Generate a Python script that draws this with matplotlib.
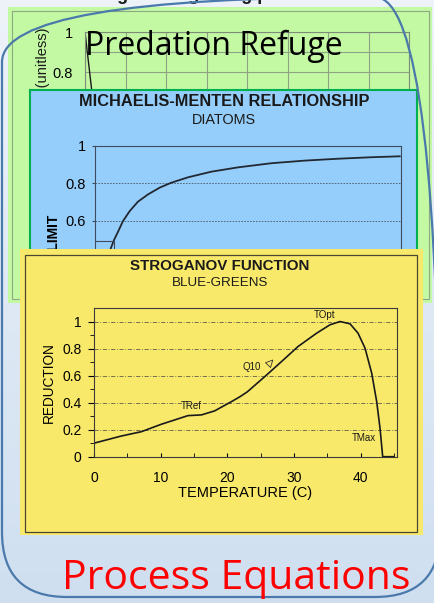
import matplotlib
matplotlib.use('Agg')
import matplotlib.pyplot as plt
import numpy as np
from matplotlib.patches import Rectangle, FancyBboxPatch
from matplotlib.colors import LinearSegmentedColormap
from matplotlib.ticker import MultipleLocator, FuncFormatter

plt.rcParams['font.family'] = ['Liberation Sans', 'DejaVu Sans']

W, H = 434, 603

# predation refuge chart (mostly covered by the others)
food = [0, 0.165, 0.4, 1.0, 2.0, 4.0, 8.0]
refuge = [1.0, 0.71, 0.45, 0.2, 0.06, 0.01, 0.0]

# Michaelis-Menten nutrient limitation, diatoms
nutrient = [0, 0.02, 0.05, 0.081, 0.098, 0.119, 0.145, 0.180, 0.223, 0.276,
            0.337, 0.397, 0.485, 0.607, 0.746, 0.920, 1.095, 1.269, 1.443, 1.592]
limit = [0, 0.17, 0.33, 0.453, 0.498, 0.542, 0.599, 0.652, 0.702, 0.741,
         0.777, 0.803, 0.832, 0.862, 0.885, 0.907, 0.921, 0.931, 0.939, 0.944]
half_sat_conc = 0.1
half_sat_level = 0.49

# Stroganov temperature function, blue-greens
temp_c = [0, 4.1, 7.1, 10.1, 14.1, 16.1, 18.1, 20.6, 21.9, 23.0, 25.9, 28.4,
          30.6, 33.4, 35.4, 36.9, 38.4, 39.6, 40.65, 41.65, 42.4, 42.9, 43.3, 45.0]
reduction = [0.10, 0.153, 0.185, 0.24, 0.304, 0.309, 0.339, 0.407, 0.444, 0.48,
             0.605, 0.716, 0.815, 0.914, 0.976, 1.0, 0.983, 0.914, 0.803, 0.618,
             0.407, 0.21, 0.0, 0.0]
markers = {'TRef': (14.6, 0.376), 'Q10': (23.7, 0.667),
           'TOpt': (34.65, 1.05), 'TMax': (40.4, 0.136)}

GREEN = '#c4f9a4'
BLUE = '#96cefb'
YELLOW = '#f9e96b'
INK = '#1a1a1a'


def px_rect(x0, y0, x1, y1):
    # pixel box (top-left origin) -> figure fraction rect
    return [x0 / W, 1 - y1 / H, (x1 - x0) / W, (y1 - y0) / H]


def fxy(x, y):
    return x / W, 1 - y / H


fig = plt.figure(figsize=(W / 100, H / 100), dpi=100)

# slide background + green card
ax_bg = fig.add_axes([0, 0, 1, 1], zorder=0)
cmap = LinearSegmentedColormap.from_list('slide', ['#eef3fa', '#cfdff0'])
ax_bg.imshow(np.linspace(0, 1, 256).reshape(-1, 1), cmap=cmap,
             extent=[0, W, H, 0], aspect='auto')
ax_bg.set_xlim(0, W)
ax_bg.set_ylim(H, 0)
ax_bg.axis('off')
ax_bg.add_patch(Rectangle((8, 7), 424, 296, fc=GREEN, ec='none'))
ax_bg.add_patch(Rectangle((12, 11), 417, 288, fc='none', ec='#8fa884', lw=0.8))
# title of the refuge chart, scrolled off the top
ax_bg.text(205, 0.5, 'Refuge from grazing pressure', ha='center', va='baseline',
           fontsize=13, fontweight='bold', color=INK)

# only the top strip of this chart peeks out above the blue card
ax_old = fig.add_axes(px_rect(85, 32, 409, 100), zorder=0.5)
ax_old.set_facecolor('none')
ax_old.plot(food, refuge, color=INK, lw=1)
ax_old.set_xlim(0, 8)
ax_old.set_ylim(0.66, 1)
ax_old.set_xticks(range(9))
ax_old.set_yticks([0.7, 0.8, 0.9, 1.0])
ax_old.yaxis.set_major_formatter(
    FuncFormatter(lambda v, _: '%g' % round(v, 1) if round(v * 10) % 2 == 0 else ''))
ax_old.set_xticklabels([])
ax_old.grid(color='#8ea383', lw=0.8)
ax_old.tick_params(length=0, labelsize=10.5, pad=9)
for s in ax_old.spines.values():
    s.set_color('#7d8c78')
ax_old.text(-0.13, 1.06, 'Refuge (unitless)', transform=ax_old.transAxes,
            rotation=90, ha='center', va='top', fontsize=10.5, color=INK)

fig.text(*fxy(85, 55), 'Predation Refuge', family='Open Sans', fontsize=23,
         va='baseline', color='black', zorder=0.7)

# blue card: Michaelis-Menten
ax_bp = fig.add_axes(px_rect(30, 90, 417, 420), zorder=1)
ax_bp.set_facecolor(BLUE)
ax_bp.set_xticks([])
ax_bp.set_yticks([])
for s in ax_bp.spines.values():
    s.set_color('#00b050')
    s.set_linewidth(1.5)

ax_mm = fig.add_axes(px_rect(95.3, 145.8, 401.3, 333.3), zorder=1.1)
ax_mm.set_facecolor('none')
ax_mm.plot(nutrient, limit, color='#222831', lw=1.3)
ax_mm.plot([0, half_sat_conc, half_sat_conc], [half_sat_level, half_sat_level, 0],
           color='#3d4b5c', lw=0.8)
ax_mm.set_xlim(0, 1.6)
ax_mm.set_ylim(0, 1)
ax_mm.set_yticks(np.arange(0, 1.01, 0.2))
ax_mm.yaxis.set_major_formatter(FuncFormatter(lambda v, _: '%g' % round(v, 1)))
ax_mm.set_xticklabels([])
ax_mm.grid(axis='y', ls=(0, (2, 1.5)), lw=0.6, color='#4a5a6a')
ax_mm.tick_params(axis='y', length=2, labelsize=10.5, pad=5, color='#3d4b5c')
for s in ax_mm.spines.values():
    s.set_color('#3d4b5c')
    s.set_linewidth(0.8)
ax_mm.text(-0.135, 0.631, 'NUTRIENT LIMIT', transform=ax_mm.transAxes,
           rotation=90, ha='center', va='top', fontsize=10, fontweight='bold')
fig.text(*fxy(224, 101), 'MICHAELIS-MENTEN RELATIONSHIP', ha='center', va='center',
         fontsize=11.8, fontweight='bold', color=INK, zorder=1.2)
fig.text(*fxy(224, 120), 'DIATOMS', ha='center', va='center',
         fontsize=10.4, color=INK, zorder=1.2)

# yellow card: Stroganov
ax_yp = fig.add_axes(px_rect(20, 249, 423, 535), zorder=2)
ax_yp.set_xlim(20, 423)
ax_yp.set_ylim(535, 249)
ax_yp.axis('off')
ax_yp.add_patch(Rectangle((20, 249), 403, 286, fc=YELLOW, ec='none'))
ax_yp.add_patch(Rectangle((25, 255), 392, 277, fc='none', ec='#4a4630', lw=0.9))

ax_st = fig.add_axes(px_rect(94, 308, 396.7, 456.7), zorder=2.1)
ax_st.set_facecolor('none')
ax_st.plot(temp_c, reduction, color=INK, lw=1.2)
ax_st.set_xlim(0, 45.4)
ax_st.set_ylim(0, 1.1)
ax_st.xaxis.set_major_locator(MultipleLocator(10))
ax_st.xaxis.set_minor_locator(MultipleLocator(5))
ax_st.set_yticks(np.arange(0, 1.01, 0.2))
ax_st.set_yticks(np.arange(0.1, 1.0, 0.2), minor=True)
ax_st.yaxis.set_major_formatter(FuncFormatter(lambda v, _: '%g' % round(v, 1)))
ax_st.tick_params(axis='x', which='both', direction='in', length=3, labelsize=10, pad=10)
ax_st.tick_params(axis='y', which='major', direction='out', length=4, labelsize=10, pad=5)
ax_st.tick_params(axis='y', which='minor', direction='out', length=3)
ax_st.grid(axis='y', which='major', ls=(0, (5, 2, 1, 2)), lw=0.6, color='#5f5d4c')
for s in ax_st.spines.values():
    s.set_color('#3a3a3a')
    s.set_linewidth(0.8)
for name, (x, y) in markers.items():
    ax_st.text(x, y, name, ha='center', va='center', fontsize=7, color=INK)
ax_st.annotate('', xy=(27.1, 0.73), xytext=(25.9, 0.667),
               arrowprops=dict(arrowstyle='simple,head_width=0.5,head_length=0.5,tail_width=0.15',
                               fc='none', ec='#333333', lw=0.6))
ax_st.set_xlabel('TEMPERATURE (C)', fontsize=10.5)
ax_st.xaxis.set_label_coords(0.5, -0.2)
ax_st.set_ylabel('REDUCTION', fontsize=9.8)
ax_st.yaxis.set_label_coords(-0.126, 0.5)
fig.text(*fxy(220, 266), 'STROGANOV FUNCTION', ha='center', va='center',
         fontsize=10.9, fontweight='bold', color=INK, zorder=2.2)
fig.text(*fxy(220, 283), 'BLUE-GREENS', ha='center', va='center',
         fontsize=9.6, color=INK, zorder=2.2)

# rounded frame and caption on top (y measured upward here)
ax_top = fig.add_axes([0, 0, 1, 1], zorder=3)
ax_top.set_facecolor('none')
ax_top.set_xlim(0, W)
ax_top.set_ylim(0, H)
ax_top.axis('off')
ax_top.add_patch(FancyBboxPatch((2, 6), 438, 600, boxstyle='round,pad=0,rounding_size=65',
                                fc='none', ec='#4a79ab', lw=1.6))
ax_top.text(62, H - 589, 'Process Equations', family='Open Sans', fontsize=29.5,
            va='baseline', color='#ff0000')

fig.savefig('out.png', dpi=100)
